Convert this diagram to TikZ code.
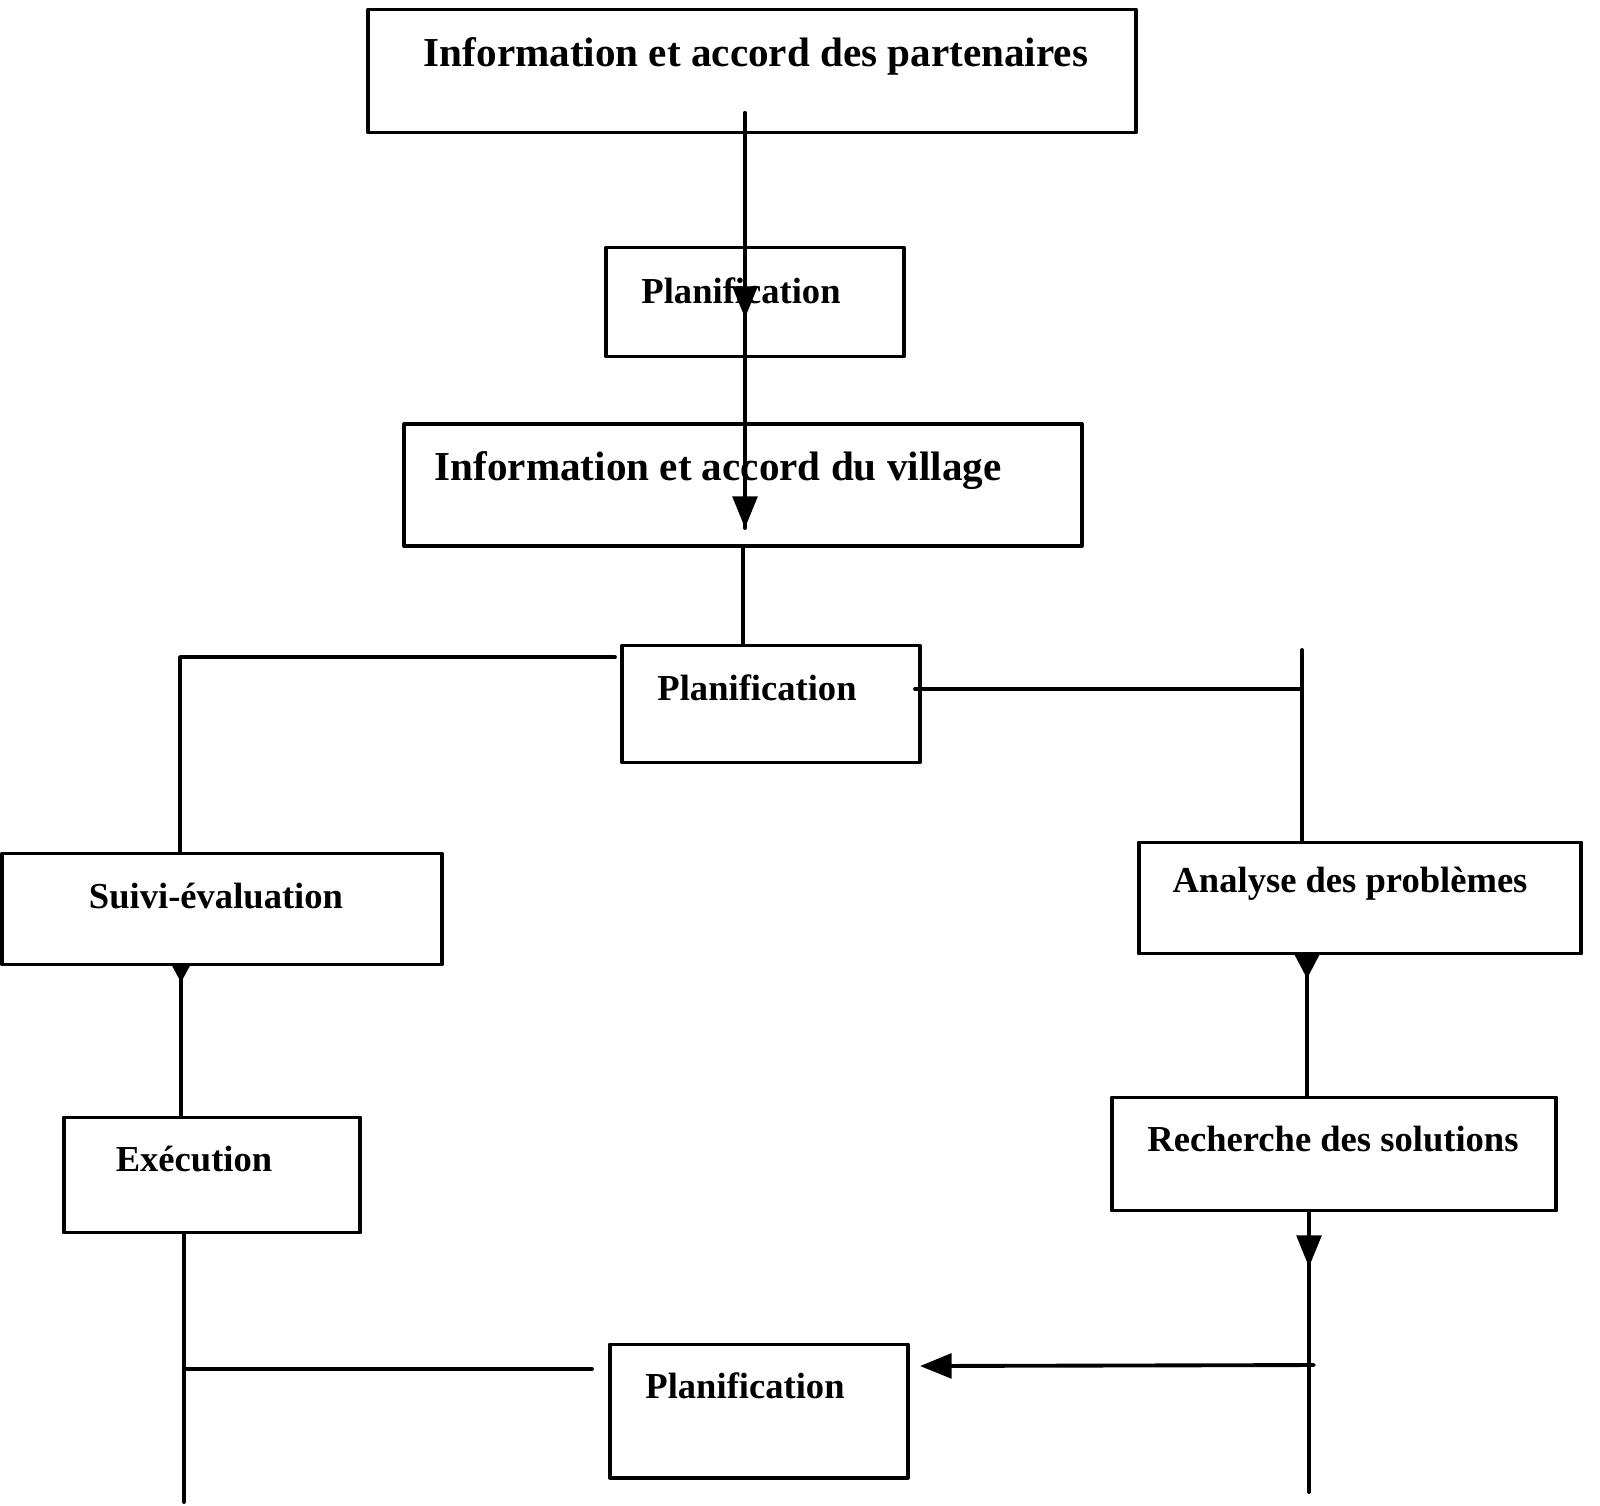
\documentclass[tikz,border=0pt]{standalone}
\usepackage{fontspec}
\setmainfont{Liberation Serif}
\usetikzlibrary{arrows.meta}
\begin{document}
\begin{tikzpicture}[line join=round,line cap=round,>={Triangle[length=9pt,width=7pt]},x=0.01cm,y=-0.01cm,line width=1.1pt,
	box/.style={draw,line width=1.1pt,inner sep=0pt},
	lbl/.style={font=\fontsize{11.7}{14}\selectfont\bfseries,inner sep=0pt},
	slbl/.style={font=\fontsize{10.4}{13}\selectfont\bfseries,inner sep=0pt},
	tri/.style={{Triangle[reversed,length=#1,width=#1]}-}]
	\useasboundingbox (0,0) rectangle (1600,1505);
	% boites
	\node[box,minimum width=7.67cm,minimum height=1.23cm] (partenaires) at (752,71) {};
	\node[lbl] (tpartenaires) at (756,56) {Information et accord des partenaires};
	\node[box,minimum width=2.97cm,minimum height=1.09cm] (planifA) at (755,302) {};
	\node[slbl] (tplanifA) at (741,291) {Planification};
	\node[box,minimum width=6.77cm,minimum height=1.22cm] (village) at (743,485) {};
	\node[lbl] (tvillage) at (718,471) {Information et accord du village};
	\node[box,minimum width=2.97cm,minimum height=1.17cm] (planifB) at (771,704) {};
	\node[slbl] (tplanifB) at (757,688) {Planification};
	\node[box,minimum width=4.39cm,minimum height=1.11cm] (suivi) at (222,909) {};
	\node[slbl] (tsuivi) at (216,896) {Suivi-évaluation};
	\node[box,minimum width=4.42cm,minimum height=1.11cm] (analyse) at (1360,898) {};
	\node[slbl] (tanalyse) at (1350,884) {Analyse des problèmes};
	\node[box,minimum width=2.96cm,minimum height=1.15cm] (execution) at (212,1175) {};
	\node[slbl] (texecution) at (194,1159) {Exécution};
	\node[box,minimum width=4.44cm,minimum height=1.13cm] (recherche) at (1334,1154) {};
	\node[slbl] (trecherche) at (1333,1139) {Recherche des solutions};
	\node[box,minimum width=2.98cm,minimum height=1.33cm] (planifC) at (759,1411) {};
	\node[slbl] (tplanifC) at (745,1386) {Planification};
	% liaisons
	\coordinate (a0) at (745,113);
	\coordinate (a1) at (745,318);
	\coordinate (a2) at (745,528);
	\draw (a0) -- (a2);
	\draw[->] (a0) -- (a1);
	\draw[->] (a1) -- (a2);
	\draw (village.south) -- (village.south |- planifB.north);
	\coordinate (l0) at (615,657);
	\coordinate (lc) at (180,657);
	\draw (l0) -- (lc) -- (lc |- suivi.north);
	\coordinate (r0) at (915,689);
	\coordinate (rt) at (1302,650);
	\draw (r0) -- (rt |- r0);
	\draw (rt) -- (rt |- analyse.north);
	\coordinate (ab) at (1307,954);
	\draw[tri=7pt] (ab) -- (ab |- recherche.north);
	\coordinate (rb) at (1309,1211);
	\coordinate (rk) at (1309,1267);
	\coordinate (re) at (1309,1492);
	\draw (rb) -- (re);
	\draw[->] (rb) -- (rk);
	\coordinate (rh) at (1314,1365);
	\coordinate (ph) at (920,1366);
	\draw[->] (rh) -- (ph);
	\coordinate (sb) at (181,965);
	\draw[tri=5pt] (sb) -- (sb |- execution.north);
	\coordinate (eb) at (184,1233);
	\coordinate (ee) at (184,1502);
	\draw (eb) -- (ee);
	\coordinate (lh) at (592,1369);
	\draw (eb |- lh) -- (lh);
\end{tikzpicture}
\end{document}
